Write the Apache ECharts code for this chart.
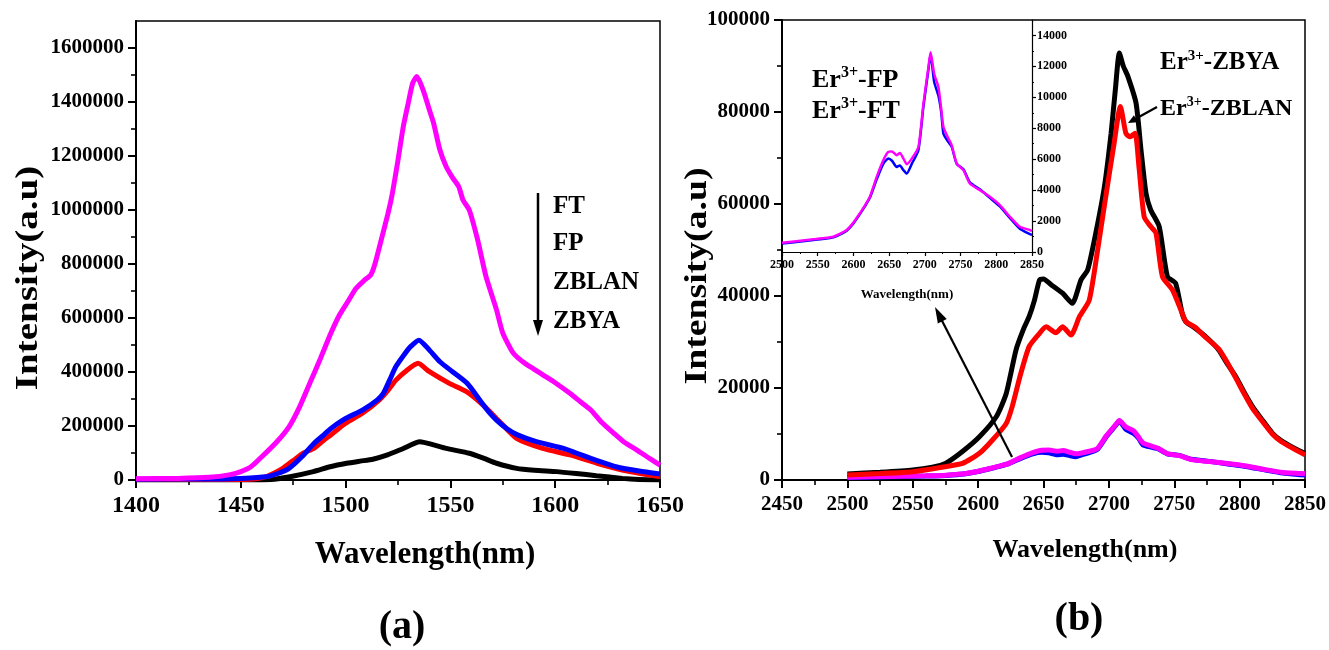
<!DOCTYPE html>
<html><head><meta charset="utf-8">
<script src="https://cdn.jsdelivr.net/npm/echarts@6/dist/echarts.min.js"></script>
<style>html,body{margin:0;padding:0;background:#fff}#c{width:1329px;height:650px}</style>
</head><body><div id="c"></div>
<script>
// ---------- Panel (a): 1400-1650 nm ----------
const ftAX = [1400,1420,1435,1445,1450,1455,1460,1467,1473,1478,1483,1488,1493,1497,1501,1505,1509,1512,1514,1517,1520,1522,1525,1527.5,1530,1532,1534,1537,1540,1542,1545,1548,1551,1554,1556,1559,1563,1567,1572,1575,1580,1585,1590,1595,1600,1607,1612,1617,1622,1628,1633,1639,1645,1650];
const ftAY = [5000,6000,10000,20000,31000,50000,86000,140000,197000,270000,360000,450000,544000,610000,660000,710000,740000,760000,800000,889000,980000,1049000,1185000,1308000,1400000,1470000,1494000,1444000,1370000,1321000,1222000,1160000,1120000,1086000,1037000,1000000,889000,753000,630000,544000,470000,435000,410000,385000,360000,321000,290000,259000,215000,173000,140000,111000,80000,55000];
const fpAX = [1400,1440,1450,1462,1468,1473,1479,1485,1490,1493,1500,1508,1515,1518,1521,1524,1528,1531,1535,1540,1545,1551,1558,1564,1568,1572,1577,1582,1591,1604,1610,1617,1623,1629,1640,1650];
const fpAY = [3000,4000,6000,12000,25000,43000,85000,136000,170000,191000,228000,259000,296000,321000,370000,420000,465000,494000,518000,481000,438000,401000,358000,296000,255000,222000,190000,167000,142000,117000,100000,80000,64000,49000,33000,22000];
const zblanAX = [1400,1440,1455,1462,1470,1475,1480,1485,1490,1493,1500,1508,1516,1520,1524,1529,1534.6,1540,1549.5,1557.7,1565.5,1573.5,1581.6,1594,1607,1620,1632,1650];
const zblanAY = [2000,2000,3000,12000,43000,72000,100000,118000,150000,167000,210000,247000,296000,330000,370000,405000,432000,401000,358000,327000,278000,216000,154000,117000,93000,62000,37000,12000];
const zbyaAX = [1400,1460,1466,1473.5,1484.6,1492.6,1500.5,1507,1513,1520,1527,1535.5,1542,1548,1559,1566,1572,1581.6,1590,1600.7,1610,1619.6,1632,1640,1650];
const zbyaAY = [0,0,3000,12000,31000,49000,62000,70000,77000,93000,115000,142000,130000,117000,99000,80000,62000,43000,36000,31000,24000,16000,6000,2000,0];
const yLabelsA = [0,200000,400000,600000,800000,1000000,1200000,1400000,1600000];
const yMinorA = [100000,300000,500000,700000,900000,1100000,1300000,1500000];

// ---------- Panel (b): 2450-2850 nm ----------
const zbyaBX = [2500,2525,2550,2565,2575,2588,2601,2614,2621.5,2629,2635,2639,2643,2647,2650,2656,2664.6,2672,2678.7,2683.8,2690,2696.6,2701.7,2705,2708,2711,2714.6,2720.8,2724.6,2728.4,2732,2738.5,2744.8,2751,2756,2759,2766,2774,2784,2790,2797,2803,2810,2818,2825,2832,2840,2850];
const zbyaBY = [1300,1700,2200,2800,3600,6200,9400,13800,18800,28300,33000,35500,39000,43500,43700,42400,40600,38400,43500,45700,53700,63800,75400,85000,92800,90000,87700,81900,71700,62300,58700,55100,44200,42800,36300,34400,33000,31200,28300,25500,22500,19300,15900,12800,10200,8500,7200,5800];
const zblanBX = [2500,2525,2550,2575,2588,2601,2611,2621.5,2626,2632,2639,2647,2652,2659.5,2664.6,2671,2677.5,2685,2691.4,2698,2704,2708.8,2713,2716,2720,2723,2727,2732,2736,2741,2748.7,2756,2759,2766,2774,2784,2790,2797,2803,2810,2818,2825,2832,2840,2850];
const zblanBY = [1100,1400,1800,2900,3600,5800,8700,12300,15900,22500,29000,31900,33300,32000,33300,31500,35500,39100,50000,62300,73200,81200,75400,74600,75400,68100,57200,55100,53700,44200,41300,36300,34400,33200,31000,28500,25800,22200,19000,15500,12500,10000,8300,7000,5500];
const ftBX = [2500,2520,2544,2560,2572,2580,2590.6,2600,2609,2616,2623,2632.6,2641.8,2648.8,2654,2660.6,2665,2670,2674.6,2681.7,2691,2698,2705,2708,2713,2719,2723,2726,2733,2737.6,2744.6,2754,2763,2777,2791,2805,2819,2833,2847,2850];
const ftBY = [600,700,820,900,990,1150,1420,1900,2500,3000,3570,4860,5930,6470,6500,6260,6400,6040,5680,6040,6790,9590,11950,12920,11530,10660,9200,8080,7330,6900,5720,5290,4430,4000,3570,3030,2280,1630,1420,1350];
const fpBX = ftBX;
const fpBY = [550,650,780,850,950,1100,1380,1850,2450,2950,3500,4700,5700,6040,5900,5500,5600,5290,5070,5700,6600,9400,11800,12800,11000,10100,9000,7650,7100,6800,5700,5350,4500,4050,3500,2950,2200,1500,1150,1100];
const yLabelsInset = [0,2000,4000,6000,8000,10000,12000,14000];
const yMinorInset = [1000,3000,5000,7000,9000,11000,13000];

const F = '"Liberation Serif", "Times New Roman", serif';
const pairs = (xs, ys) => xs.map((x, i) => [x, ys[i]]);
const BLK = '#000';
const plain = v => String(v);

function xAxisCfg(grid, min, max, fs, margin, lw, tl) {
  return {
    type: 'value', gridIndex: grid, min: min, max: max, interval: 50,
    axisLine: { show: true, lineStyle: { color: BLK, width: lw } },
    axisTick: { show: true, length: tl, lineStyle: { color: BLK, width: lw } },
    minorTick: { show: true, splitNumber: 2, length: Math.round(tl * 0.6), lineStyle: { color: BLK, width: lw * 0.8 } },
    axisLabel: { fontSize: fs, fontWeight: 'bold', fontFamily: F, color: BLK, margin: margin, formatter: plain },
    splitLine: { show: false }, minorSplitLine: { show: false }
  };
}

function line(name, xi, yi, data, color, w) {
  return { name: name, type: 'line', xAxisIndex: xi, yAxisIndex: yi, data: data,
    showSymbol: false, smooth: 0.2, lineStyle: { color: color, width: w }, itemStyle: { color: color },
    silent: true, z: 3 };
}

function arrowHead(x1, y1, x2, y2, len, half) {
  const dx = x2 - x1, dy = y2 - y1, L = Math.hypot(dx, dy);
  const ux = dx / L, uy = dy / L;
  const bx = x2 - ux * len, by = y2 - uy * len;
  return [[x2, y2], [bx - uy * half, by + ux * half], [bx + uy * half, by - ux * half]];
}
function arrow(x1, y1, x2, y2, w, len, half) {
  const head = arrowHead(x1, y1, x2, y2, len, half);
  const L = Math.hypot(x2 - x1, y2 - y1);
  const ex = x2 - (x2 - x1) / L * (len * 0.8), ey = y2 - (y2 - y1) / L * (len * 0.8);
  return [
    { type: 'line', shape: { x1: x1, y1: y1, x2: ex, y2: ey }, style: { stroke: BLK, lineWidth: w }, z: 10 },
    { type: 'polygon', shape: { points: head }, style: { fill: BLK }, z: 10 }
  ];
}
function txt(x, y, text, size, opts) {
  return Object.assign({ type: 'text', x: x, y: y, z: 10,
    style: { text: text, font: 'bold ' + size + 'px ' + F, fill: BLK, align: 'center', verticalAlign: 'middle' } }, opts || {});
}
function ltxt(x, y, text, size) {
  return { type: 'text', x: x, y: y, z: 10,
    style: { text: text, font: 'bold ' + size + 'px ' + F, fill: BLK, align: 'left', verticalAlign: 'middle' } };
}
function erText(x, y, suffix, size) {
  return { type: 'text', x: x, y: y, z: 10,
    style: { text: '{m|Er}{s|3+}{m|' + suffix + '}', fill: BLK, align: 'left', verticalAlign: 'middle',
      rich: {
        m: { fontSize: size, fontWeight: 'bold', fontFamily: F, fill: BLK, lineHeight: size * 1.15 },
        s: { fontSize: Math.round(size * 0.6), fontWeight: 'bold', fontFamily: F, fill: BLK, verticalAlign: 'top' }
      } } };
}

const chart = echarts.init(document.getElementById('c'), null, { renderer: 'canvas' });
const option = {
  animation: false,
  backgroundColor: '#fff',
  grid: [
    { left: 136, top: 21, width: 524, height: 459, show: true, borderColor: BLK, borderWidth: 1.5, backgroundColor: 'transparent' },
    { left: 782, top: 20, width: 524, height: 460, show: true, borderColor: BLK, borderWidth: 1.5, backgroundColor: 'transparent' },
    { left: 782, top: 20, width: 250, height: 232, show: false }
  ],
  xAxis: [
    xAxisCfg(0, 1400, 1650, 24, 14, 2, 8),
    xAxisCfg(1, 2450, 2850, 21, 14, 2, 8),
    xAxisCfg(2, 2500, 2850, 12, 7, 1.2, 4)
  ],
  yAxis: [
    { type: 'value', gridIndex: 0, position: 'left', min: 0, max: 1700000, interval: 200000,
      axisLine: { show: true, lineStyle: { color: BLK, width: 2 } },
      axisTick: { show: true, length: 8, customValues: yLabelsA, lineStyle: { color: BLK, width: 2 } },
      axisLabel: { customValues: yLabelsA, formatter: plain, fontSize: 21, fontWeight: 'bold', fontFamily: F, color: BLK, margin: 12 },
      splitLine: { show: false } },
    { type: 'value', gridIndex: 0, position: 'left', min: 0, max: 1700000,
      axisLine: { show: false }, axisLabel: { show: false }, splitLine: { show: false },
      axisTick: { show: true, length: 5, customValues: yMinorA, lineStyle: { color: BLK, width: 1.6 } } },
    { type: 'value', gridIndex: 1, position: 'left', min: 0, max: 100000, interval: 20000,
      axisLine: { show: true, lineStyle: { color: BLK, width: 2 } },
      axisTick: { show: true, length: 8, lineStyle: { color: BLK, width: 2 } },
      minorTick: { show: true, splitNumber: 2, length: 5, lineStyle: { color: BLK, width: 1.6 } },
      axisLabel: { formatter: plain, fontSize: 21, fontWeight: 'bold', fontFamily: F, color: BLK, margin: 12 },
      splitLine: { show: false }, minorSplitLine: { show: false } },
    { type: 'value', gridIndex: 2, position: 'right', min: 0, max: 15000, interval: 2000,
      axisLine: { show: true, lineStyle: { color: BLK, width: 1.2 } },
      axisTick: { show: true, length: 4, customValues: yLabelsInset, lineStyle: { color: BLK, width: 1.2 } },
      axisLabel: { customValues: yLabelsInset, formatter: plain, fontSize: 12, fontWeight: 'bold', fontFamily: F, color: BLK, margin: 5 },
      splitLine: { show: false } },
    { type: 'value', gridIndex: 2, position: 'right', min: 0, max: 15000,
      axisLine: { show: false }, axisLabel: { show: false }, splitLine: { show: false },
      axisTick: { show: true, length: 2, customValues: yMinorInset, lineStyle: { color: BLK, width: 1 } } }
  ],
  series: [
    line('ZBYA', 0, 0, pairs(zbyaAX, zbyaAY), '#000000', 5),
    line('ZBLAN', 0, 0, pairs(zblanAX, zblanAY), '#ff0000', 5),
    line('FP', 0, 0, pairs(fpAX, fpAY), '#0000ff', 5),
    line('FT', 0, 0, pairs(ftAX, ftAY), '#ff00ff', 5),
    line('Er-FP', 1, 2, pairs(fpBX, fpBY), '#0000ff', 5),
    line('Er-FT', 1, 2, pairs(ftBX, ftBY), '#ff00ff', 5),
    line('Er-ZBYA', 1, 2, pairs(zbyaBX, zbyaBY), '#000000', 5),
    line('Er-ZBLAN', 1, 2, pairs(zblanBX, zblanBY), '#ff0000', 5),
    line('Er-FP inset', 2, 3, pairs(fpBX, fpBY), '#0000ff', 2.5),
    line('Er-FT inset', 2, 3, pairs(ftBX, ftBY), '#ff00ff', 2.5)
  ],
  graphic: [].concat(
    [
      txt(29, 278, 'Intensity(a.u)', 32, { rotation: Math.PI / 2, scaleX: 1.22 }),
      txt(698, 276, 'Intensity(a.u)', 32, { rotation: Math.PI / 2, scaleX: 1.18 }),
      txt(425, 555, 'Wavelength(nm)', 31),
      txt(1085, 550, 'Wavelength(nm)', 26),
      txt(907, 295, 'Wavelength(nm)', 13),
      txt(402, 628, '(a)', 40),
      txt(1079, 620, '(b)', 40),
      ltxt(553, 207, 'FT', 25),
      ltxt(553, 244, 'FP', 25),
      ltxt(553, 283, 'ZBLAN', 25),
      ltxt(553, 322, 'ZBYA', 25),
      erText(812, 80, '-FP', 26),
      erText(812, 111, '-FT', 26),
      erText(1160, 63, '-ZBYA', 25),
      erText(1160, 109, '-ZBLAN', 24)
    ],
    arrow(538, 193, 538, 336, 2.5, 16, 5),
    arrow(1012, 457, 935, 307, 2.2, 16, 5),
    arrow(1157, 107, 1128, 123, 2.2, 9, 4)
  )
};
chart.setOption(option);
</script>
</body></html>
